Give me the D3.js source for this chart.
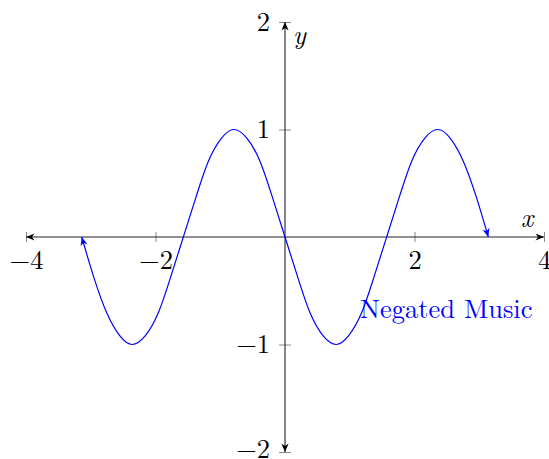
<!DOCTYPE html>
<html>
<head>
<meta charset="utf-8">
<script src="https://cdn.jsdelivr.net/npm/d3@7"></script>
<style>
  html, body { margin: 0; padding: 0; background: #fff; }
  svg { display: block; }
</style>
</head>
<body>
<svg id="chart" width="549" height="459"></svg>
<script>
// Sampled curve: x positions and y values
const xValues = [-3.14, -2.95, -2.75, -2.55, -2.36, -2.16, -1.96, -1.77, -1.57,
                 -1.37, -1.18, -0.98, -0.79, -0.59, -0.39, -0.20, 0.00,
                  0.20, 0.39, 0.59, 0.79, 0.98, 1.18, 1.37, 1.57,
                  1.77, 1.96, 2.16, 2.36, 2.55, 2.75, 2.95, 3.14];
const yValues = [0.00, -0.38, -0.71, -0.92, -1.00, -0.92, -0.71, -0.38, 0.00,
                 0.38, 0.71, 0.92, 1.00, 0.92, 0.71, 0.38, 0.00,
                 -0.38, -0.71, -0.92, -1.00, -0.92, -0.71, -0.38, 0.00,
                 0.38, 0.71, 0.92, 1.00, 0.92, 0.71, 0.38, 0.00];
const xTicks = [-4, -2, 2, 4];
const yTicks = [-2, -1, 1, 2];
const xDomain = [-4, 4];
const yDomain = [-2, 2];
const seriesName = "Negated Music";
const labelAt = [1.16, -0.755];

const FONT = "'Latin Modern Roman'";
const FS = "26.5px";
const svg = d3.select("#chart");
const x = d3.scaleLinear().domain(xDomain).range([26, 544]);
const y = d3.scaleLinear().domain(yDomain).range([452, 22]);

const defs = svg.append("defs");
function arrow(id, color) {
  defs.append("marker")
    .attr("id", id)
    .attr("viewBox", "-10 -5 11 10")
    .attr("refX", 0).attr("refY", 0)
    .attr("markerWidth", 11).attr("markerHeight", 10)
    .attr("markerUnits", "userSpaceOnUse")
    .attr("orient", "auto-start-reverse")
    .append("path")
    .attr("d", "M0,0 L-8.5,-3.6 L-6,0 L-8.5,3.6 Z")
    .attr("fill", color);
}
arrow("arrowK", "#000");
arrow("arrowB", "#0000ff");

const x0 = x(0), y0 = y(0);
const fmt = d => d < 0 ? "\u2212" + Math.abs(d) : String(d);

// x axis
const xAxis = svg.append("g")
  .attr("transform", `translate(0,${y0})`)
  .call(d3.axisBottom(x).tickValues(xTicks).tickFormat(fmt));
xAxis.select(".domain").remove();
xAxis.selectAll(".tick line").attr("y1", -5).attr("y2", 5).attr("stroke", "#8a8a8a").attr("stroke-width", 1);
xAxis.selectAll(".tick text").attr("y", 32).attr("dy", 0)
  .style("font-family", FONT).style("font-size", FS).attr("fill", "#000");

// y axis (lowest label lifted slightly so it stays inside the frame)
const yAxis = svg.append("g")
  .attr("transform", `translate(${x0},0)`)
  .call(d3.axisLeft(y).tickValues(yTicks).tickFormat(fmt));
yAxis.select(".domain").remove();
yAxis.selectAll(".tick line").attr("x1", -6).attr("x2", 6).attr("stroke", "#8a8a8a").attr("stroke-width", 1);
yAxis.selectAll(".tick text").attr("x", -15).attr("dy", "0.32em")
  .attr("y", d => d === yDomain[0] ? -3 : 0)
  .style("font-family", FONT).style("font-size", FS).attr("fill", "#000");

// axis lines with arrows at both ends
svg.append("line")
  .attr("x1", x(xDomain[0])).attr("x2", x(xDomain[1]))
  .attr("y1", y0).attr("y2", y0)
  .attr("stroke", "#222").attr("stroke-width", 1.1)
  .attr("marker-start", "url(#arrowK)").attr("marker-end", "url(#arrowK)");
svg.append("line")
  .attr("x1", x0).attr("x2", x0)
  .attr("y1", y(yDomain[0])).attr("y2", y(yDomain[1]))
  .attr("stroke", "#222").attr("stroke-width", 1.1)
  .attr("marker-start", "url(#arrowK)").attr("marker-end", "url(#arrowK)");

// axis names
svg.append("text").attr("x", 521).attr("y", 227)
  .style("font-family", FONT).style("font-size", FS).style("font-style", "italic").text("x");
svg.append("text").attr("x", 293).attr("y", 44)
  .style("font-family", FONT).style("font-size", FS).style("font-style", "italic").text("y");

// curve
const pts = xValues.map((v, i) => [v, yValues[i]]);
const line = d3.line().x(d => x(d[0])).y(d => y(d[1])).curve(d3.curveNatural);
svg.append("path")
  .attr("d", line(pts))
  .attr("fill", "none")
  .attr("stroke", "#0000ff")
  .attr("stroke-width", 1.2)
  .attr("marker-start", "url(#arrowB)")
  .attr("marker-end", "url(#arrowB)");

// series label
svg.append("text")
  .attr("x", x(labelAt[0])).attr("y", y(labelAt[1]))
  .style("font-family", FONT).style("font-size", FS)
  .attr("fill", "#0000ff")
  .text(seriesName);
</script>
</body>
</html>
